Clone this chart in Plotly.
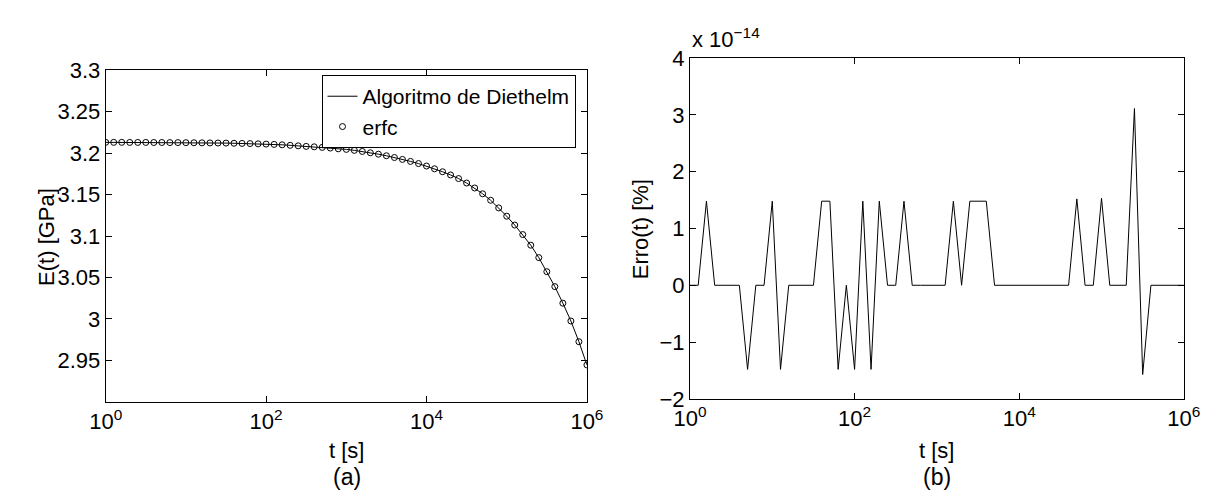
import numpy as np
import plotly.graph_objects as go

W, H = 1222, 497

# sampling grid: 10 points per decade from 10^0 to 10^6
t = np.logspace(0, 6, 61)

# E(t) [GPa]
E_diethelm = [3.2131, 3.2131, 3.2131, 3.2130, 3.2130, 3.2130, 3.2129, 3.2129, 3.2128, 3.2128,
              3.2127, 3.2126, 3.2125, 3.2124, 3.2123, 3.2122, 3.2120, 3.2118, 3.2116, 3.2113,
              3.2110, 3.2106, 3.2101, 3.2095, 3.2089, 3.2082, 3.2077, 3.2070, 3.2062, 3.2053,
              3.2046, 3.2034, 3.2021, 3.2005, 3.1988, 3.1969, 3.1948, 3.1925, 3.1901, 3.1875,
              3.1845, 3.1812, 3.1776, 3.1737, 3.1694, 3.1640, 3.1580, 3.1510, 3.1432, 3.1340,
              3.1240, 3.1133, 3.1018, 3.0890, 3.0740, 3.0570, 3.0390, 3.0190, 2.9975, 2.9725,
              2.9445]
E_erfc = list(E_diethelm)

# Erro(t) [%] in units of 1e-14
err_e14 = [0, 0, 1.48, 0, 0, 0, 0, -1.48, 0, 0,
           1.48, -1.48, 0, 0, 0, 0, 1.48, 1.48, -1.48, 0,
           -1.48, 1.48, -1.48, 1.48, 0, 0, 1.48, 0, 0, 0,
           0, 0, 1.48, 0, 1.48, 1.48, 1.48, 0, 0, 0,
           0, 0, 0, 0, 0, 0, 0, 1.52, 0, 0,
           1.53, 0, 0, 0, 3.11, -1.57, 0, 0, 0, 0,
           0]

x_tickvals = [1, 1e2, 1e4, 1e6]
x_ticktext = ["10<sup>0</sup>", "10<sup>2</sup>", "10<sup>4</sup>", "10<sup>6</sup>"]
yA_tickvals = [2.95, 3.0, 3.05, 3.1, 3.15, 3.2, 3.25, 3.3]
yA_ticktext = ["2.95", "3", "3.05", "3.1", "3.15", "3.2", "3.25", "3.3"]
yB_tickvals = [-2, -1, 0, 1, 2, 3, 4]
yB_ticktext = ["\u22122", "\u22121", "0", "1", "2", "3", "4"]

FONT = "Liberation Sans, Arial, Helvetica, sans-serif"
FS = 22

def px_x(v):
    return v / W

def px_y(v):
    return 1 - v / H

fig = go.Figure()
fig.add_trace(go.Scatter(x=t, y=E_diethelm, mode="lines", name="Algoritmo de Diethelm",
                         line=dict(color="black", width=1), xaxis="x", yaxis="y"))
fig.add_trace(go.Scatter(x=t, y=E_erfc, mode="markers", name="erfc",
                         marker=dict(symbol="circle-open", size=6, color="black",
                                     line=dict(width=1, color="black")),
                         xaxis="x", yaxis="y"))
fig.add_trace(go.Scatter(x=t, y=err_e14, mode="lines", showlegend=False,
                         line=dict(color="black", width=1), xaxis="x2", yaxis="y2"))

ax_common = dict(showline=True, linecolor="black", linewidth=1, mirror="allticks",
                 ticks="inside", ticklen=6, tickcolor="black", showgrid=False,
                 zeroline=False, tickfont=dict(family=FONT, size=FS, color="black"))

fig.update_layout(
    width=W, height=H, margin=dict(l=0, r=0, t=0, b=0),
    paper_bgcolor="white", plot_bgcolor="white",
    font=dict(family=FONT, size=FS, color="black"),
    xaxis=dict(domain=[px_x(83), px_x(578)], type="log", range=[0, 6],
               tickvals=x_tickvals, ticktext=x_ticktext, anchor="y", **ax_common),
    yaxis=dict(domain=[px_y(402), px_y(53)], range=[2.9, 3.3],
               tickvals=yA_tickvals, ticktext=yA_ticktext, anchor="x", **ax_common),
    xaxis2=dict(domain=[px_x(684), px_x(1192)], type="log", range=[0, 6],
                tickvals=x_tickvals, ticktext=x_ticktext, anchor="y2", **ax_common),
    yaxis2=dict(domain=[px_y(399), px_y(40)], range=[-2, 4],
                tickvals=yB_tickvals, ticktext=yB_ticktext, anchor="x2", **ax_common),
    legend=dict(x=px_x(305), y=px_y(58), xanchor="left", yanchor="top",
                bordercolor="black", borderwidth=1, bgcolor="white",
                font=dict(family=FONT, size=21, color="black"), tracegroupgap=0,
                itemwidth=30),
    showlegend=True,
)

def ann(text, x, y, **kw):
    d = dict(text=text, x=px_x(x), y=px_y(y), xref="paper", yref="paper",
             showarrow=False, xanchor="center", yanchor="middle",
             font=dict(family=FONT, size=FS, color="black"))
    d.update(kw)
    return d

annotations = [
    ann("t [s]", 331, 453),
    ann("(a)", 331, 481, font=dict(family=FONT, size=23, color="black")),
    ann("E(t) [GPa]", 22, 228, textangle=-90),
    ann("t [s]", 938, 453),
    ann("(b)", 938, 481, font=dict(family=FONT, size=23, color="black")),
    ann("Erro(t) [%]", 634, 220, textangle=-90),
    ann("x 10<sup>\u221214</sup>", 684, 36, xanchor="left", yanchor="bottom"),
]
fig.update_layout(annotations=annotations)

fig.write_html("out.html")
